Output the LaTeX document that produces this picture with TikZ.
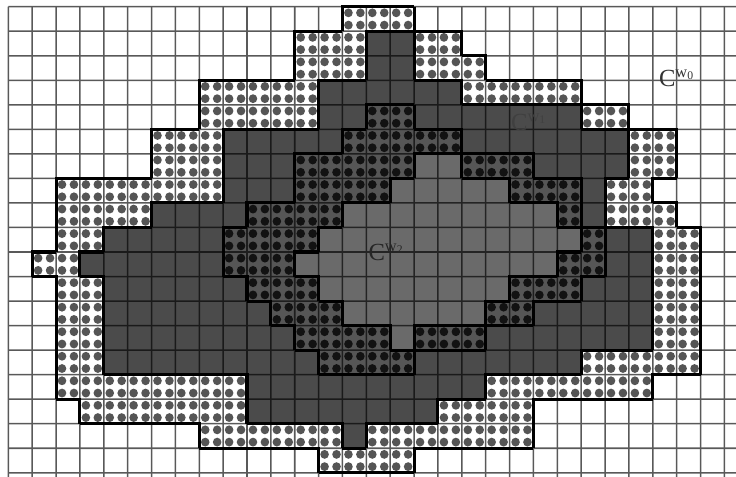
\documentclass[tikz,border=0pt]{standalone}
\usepackage{fontspec}
\setmainfont{Liberation Serif}
\definecolor{outerdot}{HTML}{555555}
\definecolor{midcell}{HTML}{4B4B4B}
\definecolor{innerring}{HTML}{565656}
\definecolor{innerdot}{HTML}{121212}
\definecolor{corecell}{HTML}{6A6A6A}

% row spans: row/first column/column after the last one
\def\rowsP{0/14/17,1/12/19,2/12/20,3/8/24,4/8/26,5/6/28,6/6/28,7/2/27,8/2/28,9/2/29,10/1/29,11/2/29,12/2/29,13/2/29,14/2/29,15/2/27,16/3/22,17/8/22,18/13/17}
\def\rowsD{1/15/17,2/15/17,3/13/19,4/13/24,5/9/26,6/9/26,7/9/25,8/6/25,9/4/27,10/3/27,11/4/27,12/4/27,13/4/27,14/4/24,15/10/20,16/10/18,17/14/15}
\def\rowsQ{4/15/17,5/14/19,6/12/22,7/12/24,8/10/24,9/9/25,10/9/25,11/10/24,12/11/22,13/12/20,14/13/17}
\def\rowsM{6/17/19,7/16/21,8/14/23,9/13/24,10/12/23,11/13/21,12/14/20,13/16/17}

\newcommand{\dotcells}[2]{%
  \foreach \r/\a/\b in #1 {
    \pgfmathtruncatemacro\lastc{\b-1}
    \foreach \c in {\a,...,\lastc}
      \foreach \dx/\dy in {0.25/0.25,0.75/0.25,0.25/0.75,0.75/0.75}
        \fill[#2] (\c+\dx,\r+\dy) circle[radius=0.18];
  }}
\newcommand{\fillcells}[2]{\foreach \r/\a/\b in #1 \fill[#2] (\a,\r) rectangle (\b,\r+1);}
\newcommand{\regionborder}[5]{%
  \draw[border] \foreach \r/\a/\b [remember=\a as \pa (initially #2), remember=\b as \pb (initially #2)] in #1
    {(\pa,\r) -- (\a,\r) -- (\a,\r+1) (\pb,\r) -- (\b,\r) -- (\b,\r+1)} (#4,#3) -- (#5,#3);}
\newcommand{\cwtext}[1]{C\raisebox{7.5pt}{\fontsize{14}{14}\selectfont w\raisebox{-1.7pt}{\fontsize{10}{10}\selectfont #1}}}

\begin{document}
\begin{tikzpicture}[x=0.7161cm, y=-0.7359cm,
    gridline/.style={black, line width=1.3pt},
    border/.style={black, line width=2.6pt, line cap=square},
    regionlabel/.style={inner sep=0pt, anchor=base west, font=\fontsize{21}{24}\selectfont}]
\useasboundingbox (-0.348,-0.273) rectangle (30.486,19.172);
\fill[white] (-0.348,-0.273) rectangle (30.486,19.172);
% outer ring and C^{w1}
\dotcells{\rowsP}{outerdot}
\fillcells{\rowsD}{midcell}
% inner ring and C^{w2}
\fillcells{\rowsQ}{innerring}
\dotcells{\rowsQ}{innerdot}
\fillcells{\rowsM}{corecell}
% grid
\begin{scope}[transparency group, opacity=0.65]
\foreach \c in {0,...,30} \draw[gridline] (\c,0) -- (\c,19.172);
\foreach \r in {0,...,19} \draw[gridline] (0,\r) -- (30.486,\r);
\end{scope}
% region borders
\regionborder{\rowsP}{17}{19}{13}{17}
\regionborder{\rowsD}{17}{18}{14}{15}
\regionborder{\rowsQ}{17}{15}{13}{17}
\regionborder{\rowsM}{19}{14}{16}{17}
\node[regionlabel, text=black!80] (cw0) at (27.25,3.233) {\cwtext{0}};
\node[regionlabel, text=black!75] (cw1) at (21.06,5.03) {\cwtext{1}};
\node[regionlabel, text=black!85] (cw2) at (15.08,10.33) {\cwtext{2}};
\end{tikzpicture}
\end{document}
